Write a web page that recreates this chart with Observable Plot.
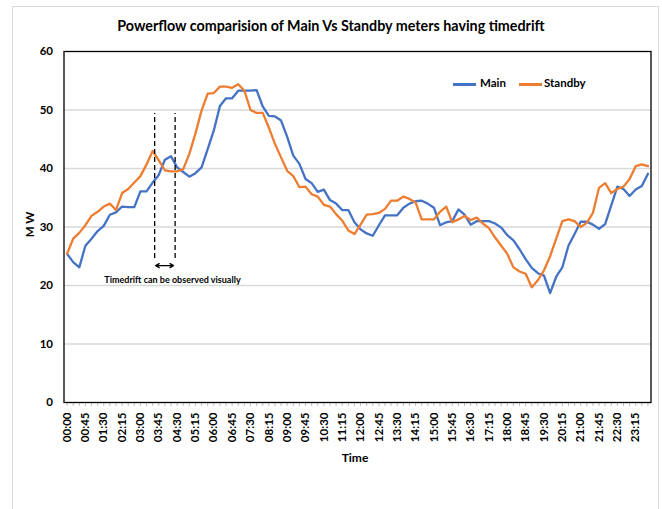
<!DOCTYPE html>
<html><head><meta charset="utf-8">
<script src="https://cdn.jsdelivr.net/npm/d3@7"></script>
<script src="https://cdn.jsdelivr.net/npm/@observablehq/plot@0.6"></script>
<style>
body{margin:0;background:#fff;font-family:Lato,"Open Sans",sans-serif;}
#wrap{position:relative;width:662px;height:509px;overflow:hidden;background:#fff;}
#border{position:absolute;left:12px;top:6px;width:647px;height:540px;border:1px solid #d9d9d9;box-sizing:border-box;}
#title{position:absolute;left:0;width:662px;top:17px;text-align:center;font-weight:bold;font-size:14.3px;color:#000;}
#chart{position:absolute;left:0;top:40px;}
.lab{position:absolute;font-weight:bold;font-size:11.5px;color:#000;white-space:nowrap;}
.sw{position:absolute;height:2.5px;width:23px;}
</style>
</head><body>
<div id="wrap">
  <div id="border"></div>
  <div id="title"></div>
  <div id="chart"></div>
  <div class="lab" id="ylab" style="left:14px;top:218px;transform:rotate(-90deg);transform-origin:center;width:30px;text-align:center;"></div>
  <div class="lab" id="xlab" style="left:330px;top:450px;width:50px;text-align:center;font-size:12px;"></div>
  <div class="sw" style="left:453px;top:83px;background:#4472C4;"></div>
  <div class="lab" id="leg0" style="left:480px;top:76px;"></div>
  <div class="sw" style="left:519px;top:83px;background:#ED7D31;"></div>
  <div class="lab" id="leg1" style="left:544px;top:76px;"></div>
</div>
<script>
const titleText = "Powerflow comparision of Main Vs Standby meters having timedrift";
const xTitle = "Time";
const yTitle = "M W";
const seriesNames = ["Main", "Standby"];
const seriesColors = ["#4472C4", "#ED7D31"];
const yTicks = [0, 10, 20, 30, 40, 50, 60];

// 15-minute categories 00:00 .. 23:45
const times = [];
for (let h = 0; h < 24; h++) for (let m = 0; m < 60; m += 15)
  times.push(String(h).padStart(2, "0") + ":" + String(m).padStart(2, "0"));
const tickLabels = times.filter((d, i) => i % 3 === 0);

const main = [
  25.4, 24.0, 23.1, 26.8, 28.0, 29.3, 30.2, 32.1, 32.5, 33.5, 33.4, 33.4,
  36.1, 36.1, 37.6, 38.9, 41.5, 42.1, 40.2, 39.4, 38.6, 39.2, 40.2, 43.3,
  46.5, 50.7, 52.0, 52.0, 53.3, 53.3, 53.3, 53.4, 50.6, 49.0, 48.9, 48.2,
  45.4, 42.2, 40.8, 38.2, 37.5, 36.0, 36.4, 34.6, 34.0, 32.9, 32.9, 30.8,
  29.6, 28.9, 28.5, 30.3, 32.0, 32.0, 32.0, 33.3, 34.0, 34.4, 34.5, 34.0,
  33.3, 30.3, 30.8, 31.0, 33.0, 32.1, 30.4, 31.0, 31.0, 31.0, 30.6, 29.9,
  28.6, 27.7, 26.2, 24.5, 23.0, 22.1, 21.7, 18.7, 21.5, 23.1, 26.8, 28.8,
  30.9, 30.9, 30.4, 29.7, 30.5, 33.7, 36.9, 36.5, 35.3, 36.4, 37.0, 39.1
];
const standby = [
  25.4, 28.0, 29.0, 30.3, 31.9, 32.6, 33.5, 34.0, 32.9, 35.8, 36.5, 37.6,
  38.7, 40.7, 43.0, 41.4, 39.7, 39.5, 39.5, 39.9, 42.5, 46.0, 49.9, 52.8,
  52.9, 54.0, 54.0, 53.8, 54.4, 53.3, 50.0, 49.5, 49.5, 47.0, 44.2, 41.9,
  39.6, 38.7, 36.8, 36.9, 35.6, 35.2, 33.8, 33.5, 32.2, 31.1, 29.4, 28.8,
  30.4, 32.1, 32.2, 32.4, 33.1, 34.5, 34.5, 35.2, 34.8, 34.2, 31.3, 31.3,
  31.3, 32.6, 33.5, 30.8, 31.3, 31.9, 31.2, 31.6, 30.6, 29.8, 28.2, 26.8,
  25.4, 23.1, 22.4, 22.0, 19.7, 20.9, 22.6, 25.0, 28.0, 31.0, 31.3, 31.0,
  30.0, 30.7, 32.4, 36.7, 37.5, 35.8, 36.5, 36.9, 38.2, 40.4, 40.7, 40.4
];

// annotation
const driftStart = "03:30", driftMid = "04:00", driftEnd = "04:30", driftText = "04:15";
const driftTop = 49.4, driftBottom = 24.6, driftArrowY = 23.4, driftLabelY = 21.0;
const driftLabel = "Timedrift can be observed visually";

document.getElementById("title").textContent = titleText;
document.getElementById("xlab").textContent = xTitle;
document.getElementById("ylab").textContent = yTitle;
document.getElementById("leg0").textContent = seriesNames[0];
document.getElementById("leg1").textContent = seriesNames[1];

const rows = [];
times.forEach((t, i) => {
  rows.push({time: t, mw: main[i], series: seriesNames[0]});
  rows.push({time: t, mw: standby[i], series: seriesNames[1]});
});

const chart = Plot.plot({
  width: 662, height: 430,
  marginTop: 11, marginBottom: 68, marginLeft: 63.5, marginRight: 11.5,
  x: {type: "band", domain: times, padding: 0, round: false},
  y: {domain: [0, 60]},
  color: {domain: seriesNames, range: seriesColors},
  style: {fontFamily: "Lato, 'Open Sans', sans-serif", fontWeight: "bold", fontSize: "11px", color: "#000", background: "transparent"},
  marks: [
    Plot.gridY(yTicks.filter(d => d > 0 && d < 60), {stroke: "#d9d9d9", strokeOpacity: 1, strokeWidth: 1.3}),
    Plot.axisY({ticks: yTicks, tickSize: 0, tickPadding: 11, label: null, fontSize: 11.5, fontWeight: "bold"}),
    Plot.axisX({ticks: times, tickSize: 4, tickFormat: () => "", label: null, stroke: "#bfbfbf"}),
    Plot.axisX({ticks: tickLabels, tickSize: 0, tickRotate: -90, tickPadding: 10, label: null, fontSize: 11.5, fontWeight: "bold"}),
    Plot.line(rows, {x: "time", y: "mw", z: "series", stroke: "series", strokeWidth: 2.3, curve: "linear"}),
    Plot.ruleX([driftStart], {y1: driftBottom, y2: driftTop, dx: 2, stroke: "#000", strokeWidth: 1.3, strokeDasharray: "5,3"}),
    Plot.ruleX([driftEnd], {y1: driftBottom, y2: driftTop, dx: -2, stroke: "#000", strokeWidth: 1.3, strokeDasharray: "5,3"}),
    Plot.arrow([0], {x1: () => driftMid, x2: () => driftStart, y1: () => driftArrowY, y2: () => driftArrowY, insetEnd: 3, headLength: 6, stroke: "#000", strokeWidth: 1.3}),
    Plot.arrow([0], {x1: () => driftMid, x2: () => driftEnd, y1: () => driftArrowY, y2: () => driftArrowY, insetEnd: 3.6, headLength: 6, stroke: "#000", strokeWidth: 1.3}),
    Plot.text([driftLabel], {x: () => driftText, y: () => driftLabelY, text: d => d, dx: 1.5, fontSize: 9, fontWeight: "bold", fill: "#000"}),
    Plot.frame({stroke: "#000", strokeWidth: 1.3})
  ]
});
document.getElementById("chart").appendChild(chart);
</script>
</body></html>
